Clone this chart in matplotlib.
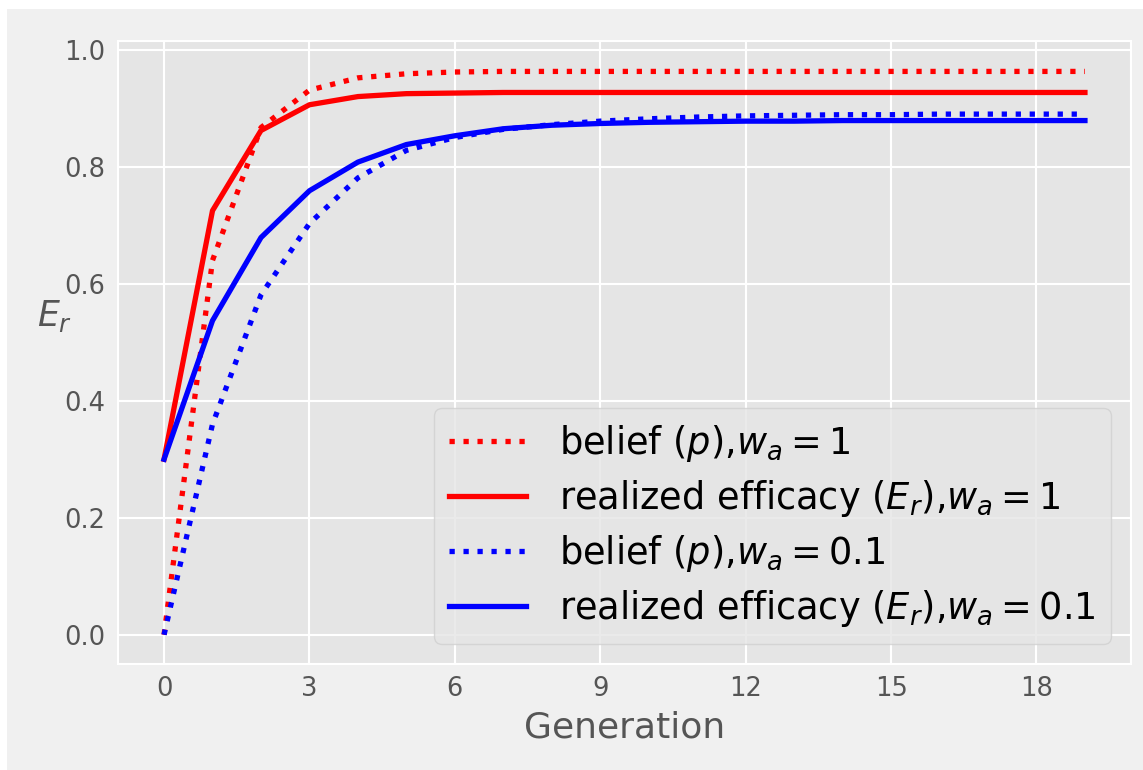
"""Belief vs realized efficacy over generations for two w_a values."""
import matplotlib
matplotlib.use('Agg')
import matplotlib.pyplot as plt
from matplotlib.patches import Rectangle
import numpy as np

# --- Data ---
generation = np.arange(20)

belief_wa1 = [0.0, 0.64, 0.867, 0.931, 0.952, 0.959, 0.962, 0.963, 0.963, 0.963,
              0.963, 0.963, 0.963, 0.963, 0.963, 0.963, 0.963, 0.963, 0.963, 0.963]
realized_wa1 = [0.30, 0.725, 0.862, 0.906, 0.920, 0.925, 0.926, 0.927, 0.927, 0.927,
                0.927, 0.927, 0.927, 0.927, 0.927, 0.927, 0.927, 0.927, 0.927, 0.927]
belief_wa01 = [0.0, 0.36, 0.581, 0.703, 0.781, 0.828, 0.850, 0.864, 0.872, 0.878,
               0.882, 0.885, 0.887, 0.888, 0.889, 0.889, 0.890, 0.890, 0.890, 0.890]
realized_wa01 = [0.30, 0.537, 0.679, 0.759, 0.808, 0.838, 0.853, 0.865, 0.871, 0.874,
                 0.876, 0.877, 0.878, 0.878, 0.879, 0.879, 0.879, 0.879, 0.879, 0.879]

labels = [r'belief $(p)$,$w_a = 1$',
          r'realized efficacy $(E_r)$,$w_a = 1$',
          r'belief $(p)$,$w_a = 0.1$',
          r'realized efficacy $(E_r)$,$w_a = 0.1$']

FIG_BG = '#f0f0f0'
AX_BG = '#e5e5e5'
TICK_GRAY = '#555555'

plt.rcParams.update({
    'font.family': 'DejaVu Sans',
    'axes.facecolor': AX_BG,
    'axes.edgecolor': 'white',
    'axes.linewidth': 1.5,
    'grid.color': 'white',
    'grid.linewidth': 1.5,
    'xtick.color': TICK_GRAY,
    'ytick.color': TICK_GRAY,
    'lines.linewidth': 3.8,
})

fig = plt.figure(figsize=(11.43, 7.7), dpi=100, facecolor=FIG_BG)
# white strip along the top and left edges, as in the reference crop
fig.patches.append(Rectangle((0, 0), 7 / 1143, 1, transform=fig.transFigure,
                             facecolor='white', edgecolor='none', zorder=-1))
fig.patches.append(Rectangle((0, 1 - 9 / 770), 1, 9 / 770, transform=fig.transFigure,
                             facecolor='white', edgecolor='none', zorder=-1))

ax = fig.add_axes([118 / 1143, 1 - 664 / 770, (1131 - 118) / 1143, (664 - 41) / 770])
ax.set_axisbelow(True)
ax.grid(True)

ax.plot(generation, belief_wa1, ':', color='red', label=labels[0])
ax.plot(generation, realized_wa1, '-', color='red', label=labels[1])
ax.plot(generation, belief_wa01, ':', color='blue', label=labels[2])
ax.plot(generation, realized_wa01, '-', color='blue', label=labels[3])

ax.set_xticks([0, 3, 6, 9, 12, 15, 18])
ax.set_yticks([0.0, 0.2, 0.4, 0.6, 0.8, 1.0])
ax.set_ylim(-0.05, 1.015)
ax.tick_params(labelsize=18.5, length=0, pad=9)

ax.set_xlabel('Generation', fontsize=26, color=TICK_GRAY, labelpad=6)
ax.set_ylabel(r'$E_r$', fontsize=25, color=TICK_GRAY, rotation=0, labelpad=22)
ax.yaxis.set_label_coords(-0.063, 0.53)

leg = ax.legend(loc='lower right', fontsize=26.5, handlelength=2.1,
                handletextpad=0.9, labelspacing=0.38, framealpha=0.8,
                borderaxespad=0.55, borderpad=0.4)
leg.get_frame().set_edgecolor('#d0d0d0')
leg.get_frame().set_facecolor(AX_BG)

fig.savefig('out.png', dpi=100, facecolor=FIG_BG)
